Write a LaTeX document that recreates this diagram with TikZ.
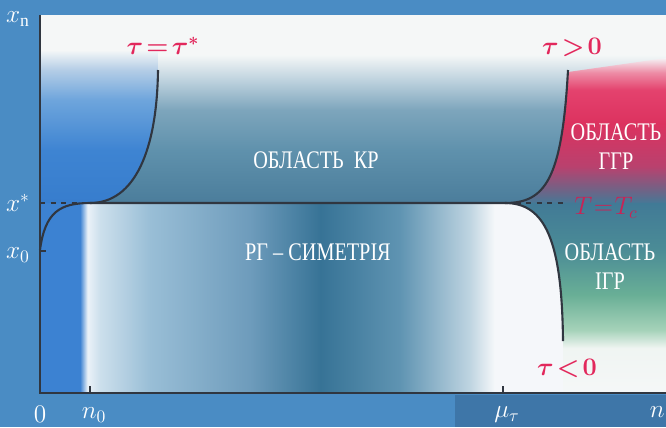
\documentclass[tikz,border=0pt]{standalone}
\usepackage{fix-cm}
\usepackage{fontspec}
\setmainfont{Liberation Serif}
\newfontfamily\narrowserif[FakeStretch=0.8]{Liberation Serif}
\newcommand\tightrel[1]{\thickmuskip=#1mu\relax}
\definecolor{outerblue}{RGB}{74,140,196}
\definecolor{outerdark}{RGB}{62,118,168}
\definecolor{linegray}{RGB}{48,54,64}
\definecolor{taured}{RGB}{226,40,92}
\definecolor{tcred}{RGB}{200,36,86}
\pgfdeclareverticalshading{upperband}{100bp}{rgb(0bp)=(.294,.490,.608); rgb(25bp)=(.294,.490,.608); rgb(39bp)=(.373,.569,.675); rgb(49.7bp)=(.490,.647,.737); rgb(57.7bp)=(.745,.824,.871); rgb(64.4bp)=(.96,.97,.97); rgb(100bp)=(.96,.97,.97)}
\pgfdeclareverticalshading{leftband}{100bp}{rgb(0bp)=(.216,.490,.804); rgb(25bp)=(.216,.490,.804); rgb(42.3bp)=(.243,.518,.824); rgb(58.7bp)=(.431,.647,.863); rgb(68.5bp)=(.706,.804,.902); rgb(75bp)=(.96,.97,.97); rgb(100bp)=(.96,.97,.97)}
\pgfdeclarehorizontalshading{lowerband}{100bp}{rgb(0bp)=(.235,.510,.824); rgb(28.2bp)=(.235,.510,.824); rgb(28.8bp)=(.922,.949,.973); rgb(29.8bp)=(.800,.875,.925); rgb(33.8bp)=(.600,.745,.840); rgb(41.8bp)=(.430,.610,.735); rgb(47.4bp)=(.216,.451,.588); rgb(53.75bp)=(.373,.580,.698); rgb(59.3bp)=(.745,.831,.882); rgb(61.3bp)=(.96,.97,.98); rgb(100bp)=(.96,.97,.98)}
\pgfdeclareverticalshading{ggrband}{100bp}{rgb(0bp)=(.275,.471,.588); rgb(25bp)=(.275,.471,.588); rgb(29.3bp)=(.431,.392,.529); rgb(37.6bp)=(.725,.255,.431); rgb(52.5bp)=(.863,.196,.373); rgb(64bp)=(.894,.260,.430); rgb(70bp)=(.93,.55,.65); rgb(75bp)=(.96,.95,.96); rgb(100bp)=(.96,.95,.96)}
\pgfdeclareverticalshading{igrband}{100bp}{rgb(0bp)=(.96,.97,.97); rgb(25bp)=(.96,.97,.97); rgb(36.8bp)=(.94,.96,.95); rgb(41.6bp)=(.647,.824,.725); rgb(50.8bp)=(.412,.686,.588); rgb(62.6bp)=(.294,.549,.588); rgb(75bp)=(.255,.478,.588); rgb(100bp)=(.255,.478,.588)}
\begin{document}
\begin{tikzpicture}[x=.02cm,y=-.02cm,
  curve/.style={line width=1.2pt,draw=linegray},
  axisline/.style={line width=.8pt,draw=linegray},
  dashline/.style={line width=.6pt,draw=linegray,dashed},
  lbl/.style={text=white,inner sep=0pt,font=\fontsize{14.4}{17}\selectfont},
  region/.style={text=white,align=center,inner sep=0pt,font=\narrowserif\fontsize{14.4}{16.5}\selectfont},
  taulbl/.style={text=taured,inner sep=0pt,font={\fontsize{14.4}{17}\selectfont\boldmath\tightrel{2}}}]
  \useasboundingbox (0,0) rectangle (666,427); \clip (0,0) rectangle (666,427);
  \fill[outerblue] (0,0) rectangle (666,427); \fill[outerdark] (455,395) rectangle (666,427);
  \shade[shading=upperband] (40,15) rectangle (666,203);
  \shade[shading=lowerband] (40,203) rectangle (666,393);
  \shade[shading=leftband] (40,50) -- (158,50) -- (158,70) .. controls (157,150) and (135,203) .. (90,203) -- (40,203) -- cycle;
  \shade[shading=ggrband] (505,203) .. controls (545,203) and (562,180) .. (568,72) -- (666,58) -- (666,203) -- cycle;
  \shade[shading=igrband] (505,203) .. controls (545,203) and (562,240) .. (563,341) -- (563,393) -- (666,393) -- (666,203) -- cycle;
  \coordinate (xs) at (40,203); \coordinate (n0) at (90,203); \coordinate (mu) at (505,203);
  \draw[axisline] (40,15) -- (40,393) -- (666,393);
  \draw[dashline] (xs) -- (n0); \draw[dashline] (mu) -- (568,203);
  \draw[curve] (40,250) .. controls (45,212) and (60,203) .. (n0) -- (mu);
  \draw[curve] (n0) .. controls (135,203) and (157,150) .. (158,70);
  \draw[curve] (mu) .. controls (545,203) and (562,180) .. (568,70);
  \draw[curve] (mu) .. controls (545,203) and (562,240) .. (563,341);
  \draw[axisline] (90,393) -- (90,386); \draw[axisline] (503,393) -- (503,386); \draw[axisline] (40,251) -- (46,251);
  \node[lbl] (xn) at (18,19) {$x_{\mathrm{n}}$}; \node[lbl] (xstar) at (18,203) {$x^*$}; \node[lbl] (xzero) at (18,255) {$x_0$};
  \node[lbl] (zero) at (40,414) {$0$}; \node[lbl] (nzero) at (94,415) {$n_0$}; \node[lbl] (mutau) at (507,415) {$\mu_\tau$};
  \node[lbl,anchor=east] (nax) at (665,412) {$n$};
  \node[taulbl] (taustar) at (163,46) {$\tau=\tau^*$}; \node[taulbl] (taupos) at (572,47) {$\tau>0$}; \node[taulbl] (tauneg) at (567,368) {$\tau<0$};
  \node[text=tcred,inner sep=0pt,font={\fontsize{14.4}{17}\selectfont\tightrel{1}}] (tc) at (606,208) {$T=T_c$};
  \node[region] (kr) at (316,160) {ОБЛАСТЬ\ \ КР}; \node[region] (rg) at (318,252) {РГ – СИМЕТРІЯ};
  \node[region] (ggr) at (616,147) {ОБЛАСТЬ\\ГГР}; \node[region] (igr) at (610,267) {ОБЛАСТЬ\\ІГР};
\end{tikzpicture}
\end{document}
